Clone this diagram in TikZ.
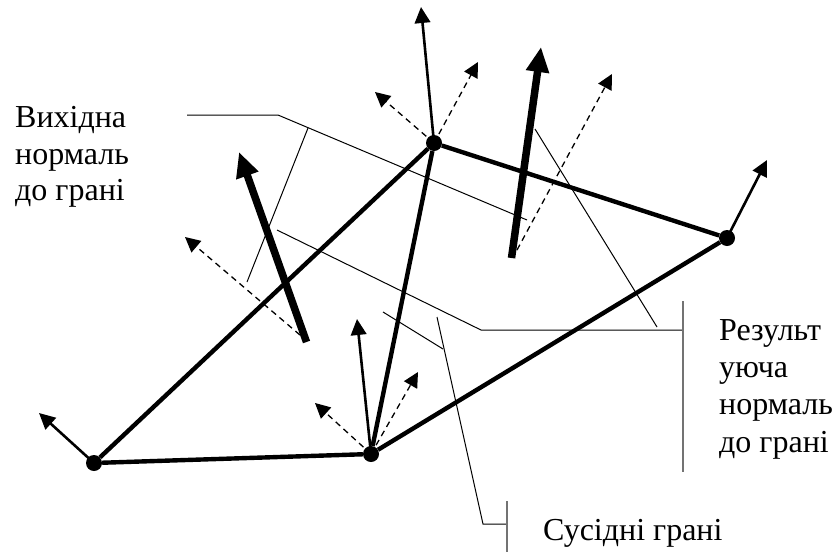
\documentclass[tikz,border=0pt]{standalone}
\usepackage{fontspec}
\setmainfont{Liberation Serif}
\usetikzlibrary{arrows.meta}

\begin{document}
\begin{tikzpicture}[
  x=1pt,y=-1pt,
  font=\fontsize{32}{36.3}\selectfont,
  vtx/.style={circle,fill=black,inner sep=0pt,minimum size=16pt},
  lbl/.style={anchor=north west,inner sep=0pt,align=left},
  edg/.style={line width=4.4pt},
  nrm/.style={-{Triangle[length=16pt,width=15.5pt]},line width=2.6pt,shorten <=-2pt},
  dsh/.style={-{Triangle[length=15pt,width=15pt]},line width=1.3pt,dash pattern=on 6pt off 4.5pt},
  fat/.style={-{Triangle[length=25pt,width=22pt]},line width=7.5pt},
  ldr/.style={line width=1pt},
  brk/.style={line width=1.1pt,black!55}]
\useasboundingbox (0,0) rectangle (837,552);

\node[vtx] (va) at (94,463)  {};
\node[vtx] (vb) at (371,454) {};
\node[vtx] (vc) at (434,143) {};
\node[vtx] (vd) at (727,238) {};

% faces
\foreach \a/\b in {va/vb, va/vc, vb/vc, vb/vd, vc/vd} \draw[edg] (\a) -- (\b);

% vertex normals
\coordinate (na) at (39,413);
\coordinate (nb) at (357,319);
\coordinate (nc) at (421,7);
\coordinate (nd) at (767,160);
\foreach \a/\b in {va/na, vb/nb, vc/nc, vd/nd} \draw[nrm] (\a) -- (\b);

% face normals
\coordinate (fl) at (306.5,342);
\coordinate (fltip) at (239,152);
\coordinate (fr) at (511.5,258);
\coordinate (frtip) at (541,47);
\foreach \a/\b in {fl/fltip, fr/frtip} \draw[fat] (\a) -- (\b);

% adjacent faces
\coordinate (dcl) at (375,92);
\coordinate (dcr) at (478,62);
\coordinate (dbl) at (315,403);
\coordinate (dbr) at (418,372);
\foreach \a/\b in {vc/dcl, vc/dcr, vb/dbl, vb/dbr} \draw[dsh,shorten <=2pt] (\a) -- (\b);
\coordinate (dfl) at (185,237);
\coordinate (dflo) at (300,335);
\coordinate (dfr) at (612,74);
\coordinate (dfro) at (517,250);
\foreach \a/\b in {dflo/dfl, dfro/dfr} \draw[dsh] (\a) -- (\b);

% leaders, left label
\coordinate (la) at (187,115);
\coordinate (lb) at (278,115);
\coordinate (lc) at (527,220);
\coordinate (ld) at (308,128);
\coordinate (le) at (247,282);
\draw[ldr] (la) -- (lb) -- (lc);
\draw[ldr] (ld) -- (le);

% leaders, right label
\coordinate (ra) at (277,230);
\coordinate (rb) at (481,330);
\coordinate (rc) at (683,330);
\coordinate (rd) at (535,129);
\coordinate (re) at (657,327);
\coordinate (rt) at (683,301);
\coordinate (ru) at (683,472);
\draw[ldr] (ra) -- (rb) -- (rc);
\draw[ldr] (rd) -- (re);
\draw[brk] (rt) -- (ru);

% leaders, bottom label
\coordinate (sa) at (383,312);
\coordinate (sb) at (443,349);
\coordinate (sc) at (437,317);
\coordinate (sd) at (483,524);
\coordinate (se) at (507,524);
\coordinate (st) at (507,501);
\coordinate (su) at (507,552);
\draw[ldr] (sa) -- (sb);
\draw[ldr] (sc) -- (sd) -- (se);
\draw[brk] (st) -- (su);

\node[lbl] (lblout) at (15,106.5)  {Вихідна\\нормаль\\до грані};
\node[lbl,font=\fontsize{32}{37.4}\selectfont] (lblres) at (719,319) {Результ\\уюча\\нормаль\\до грані};
\node[lbl] (lblsus) at (543,519) {Сусідні грані};
\end{tikzpicture}
\end{document}
